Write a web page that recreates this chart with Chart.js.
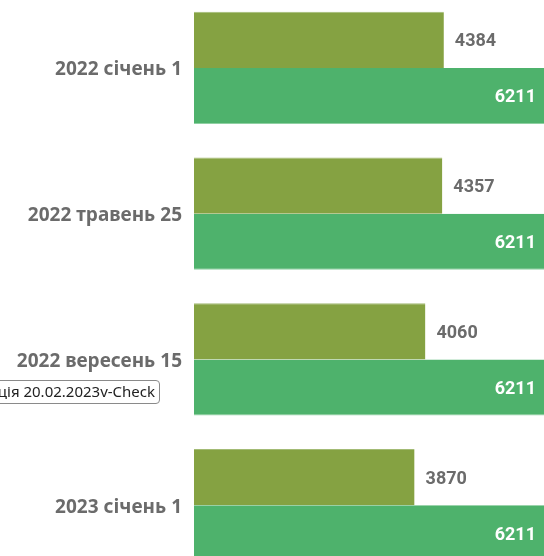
<!DOCTYPE html>
<html>
<head>
<meta charset="utf-8">
<script src="https://cdn.jsdelivr.net/npm/chart.js@4"></script>
<style>
  html, body { margin: 0; padding: 0; width: 544px; height: 556px; overflow: hidden; background: #fff; }
  #wrap { position: absolute; left: 0; top: -5px; }
  #version {
    position: absolute; right: 384px; top: 380px; height: 22px; line-height: 22px;
    padding: 0 4px 0 3px; border: 1px solid #8a8a8a; border-radius: 4px; background: #fff;
    font: 15px "Noto Sans", "Open Sans", sans-serif; color: #222; white-space: nowrap;
  }
</style>
</head>
<body>
<div id="wrap"><canvas id="barChart" width="548" height="583"></canvas></div>
<div id="version">Редакція 20.02.2023v-Check</div>
<script>
const ctx = document.getElementById("barChart");

// categories (dates)
const categories = ["2022 січень 1", "2022 травень 25", "2022 вересень 15", "2023 січень 1"];

// series values
const actualValues = [4384, 4357, 4060, 3870];
const targetValues = [6211, 6211, 6211, 6211];

const olive = "#85a242";
const green = "#4eb26c";

// value labels drawn next to / inside the bars
const valueLabels = {
    id: "valueLabels",
    afterDatasetsDraw(chart) {
        const c = chart.ctx;
        c.save();
        c.font = "bold 18px Roboto, sans-serif";
        c.textBaseline = "middle";
        chart.data.datasets.forEach((ds, i) => {
            const meta = chart.getDatasetMeta(i);
            meta.data.forEach((bar, j) => {
                const txt = String(ds.data[j]);
                if (i === 0) {
                    c.fillStyle = "#6b6b6b";
                    c.textAlign = "left";
                    c.fillText(txt, bar.x + 11, bar.y + 2);
                } else {
                    c.fillStyle = "#ffffff";
                    c.textAlign = "right";
                    c.fillText(txt, bar.x - 12, bar.y + 2);
                }
            });
        });
        c.restore();
    }
};

new Chart(ctx, {
    type: "bar",
    data: {
        labels: categories,
        datasets: [
            {
                label: "Actual",
                data: actualValues,
                backgroundColor: olive,
                borderColor: "#a3bb75",
                borderWidth: { top: 1, right: 0, bottom: 0, left: 0 },
                categoryPercentage: 0.77,
                barPercentage: 1.0
            },
            {
                label: "Target",
                data: targetValues,
                backgroundColor: green,
                borderColor: "#8fd0a2",
                borderWidth: { top: 0, right: 0, bottom: 1, left: 0 },
                categoryPercentage: 0.77,
                barPercentage: 1.0
            }
        ]
    },
    options: {
        indexAxis: "y",
        responsive: false,
        animation: false,
        layout: { padding: 0 },
        plugins: {
            legend: { display: false },
            tooltip: { enabled: false }
        },
        scales: {
            x: {
                display: false,
                min: 0,
                max: 6211
            },
            y: {
                grid: { display: false, drawTicks: false },
                border: { display: false },
                ticks: {
                    padding: 12,
                    labelOffset: 2,
                    color: "#6b6b6b",
                    font: { family: "'Noto Sans', 'Open Sans', sans-serif", size: 19, weight: "bold" }
                },
                afterFit(scale) {
                    scale.width = 194;
                    scale.paddingTop = 0;
                    scale.paddingBottom = 0;
                }
            }
        }
    },
    plugins: [valueLabels]
});
</script>
</body>
</html>
